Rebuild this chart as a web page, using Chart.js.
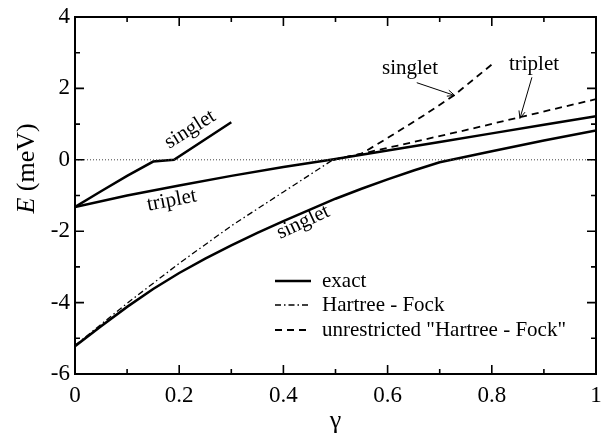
<!DOCTYPE html>
<html>
<head>
<meta charset="utf-8">
<script src="https://cdn.jsdelivr.net/npm/chart.js@4.4.0/dist/chart.umd.min.js"></script>
<style>
html, body { margin: 0; padding: 0; background: #fff; }
#wrap { width: 605px; height: 441px; }
</style>
</head>
<body>
<div id="wrap"><canvas id="chart" width="605" height="441"></canvas></div>
<script>
// energies E (meV) vs gamma
const gammaExactSingletA = [0, 0.05, 0.1, 0.15, 0.19, 0.3];
const exactSingletA = [-1.32, -0.88, -0.45, -0.05, 0.0, 1.05];

const gammaExactTriplet = [0, 0.1, 0.2, 0.3, 0.4, 0.5, 0.6, 0.7, 0.8, 0.9, 1.0];
const exactTriplet = [-1.32, -1.0, -0.72, -0.45, -0.2, 0.02, 0.26, 0.5, 0.74, 0.98, 1.22];

const gammaExactSingletB = [0, 0.05, 0.1, 0.15, 0.2, 0.25, 0.3, 0.35, 0.4, 0.45, 0.5, 0.55, 0.6, 0.65, 0.7, 0.8, 0.9, 1.0];
const exactSingletB = [-5.22, -4.66, -4.12, -3.62, -3.17, -2.77, -2.4, -2.05, -1.72, -1.4, -1.09, -0.81, -0.55, -0.3, -0.07, 0.24, 0.54, 0.82];

const gammaHF = [0, 0.1, 0.2, 0.3, 0.4, 0.495];
const hartreeFock = [-5.2, -4.02, -2.9, -1.85, -0.9, 0.0];

const gammaUHFSinglet = [0.495, 0.55, 0.61, 0.67, 0.727, 0.8];
const uhfSinglet = [0.0, 0.17, 0.7, 1.25, 1.8, 2.67];

const gammaUHFTriplet = [0.495, 0.55, 0.62, 0.75, 0.85, 1.0];
const uhfTriplet = [0.0, 0.17, 0.4, 0.83, 1.18, 1.7];

const xTicks = [0, 0.1, 0.2, 0.3, 0.4, 0.5, 0.6, 0.7, 0.8, 0.9, 1.0];
const yTicks = [-6, -5, -4, -3, -2, -1, 0, 1, 2, 3, 4];

const legendLabels = ['exact', 'Hartree - Fock', 'unrestricted "Hartree - Fock"'];

const SERIF = '"Liberation Serif", "Times New Roman", serif';
const SOLID = [];
const DASHDOT = [6, 3, 1.5, 3];
const DASHED = [7, 5];

function pts(xs, ys) {
    return xs.map((x, i) => ({ x: x, y: ys[i] }));
}

function line(data, width, dash) {
    return {
        data: data,
        showLine: true,
        borderColor: '#000',
        borderWidth: width,
        borderDash: dash,
        pointRadius: 0,
        tension: 0,
        fill: false
    };
}

// text labels and arrows placed in data coordinates
const notes = [
    { text: 'singlet', x: 0.221, y: 0.85, rot: -32 },
    { text: 'triplet', x: 0.186, y: -1.14, rot: -11 },
    { text: 'singlet', x: 0.438, y: -1.75, rot: -25 },
    { text: 'singlet', x: 0.643, y: 2.55, rot: 0 },
    { text: 'triplet', x: 0.881, y: 2.67, rot: 0 }
];
const arrows = [
    { from: [0.656, 2.16], to: [0.729, 1.8] },
    { from: [0.877, 2.31], to: [0.854, 1.16] }
];

function drawArrow(ctx, x1, y1, x2, y2) {
    const a = Math.atan2(y2 - y1, x2 - x1);
    const h = 8, s = 0.4;
    ctx.beginPath();
    ctx.moveTo(x1, y1);
    ctx.lineTo(x2, y2);
    ctx.moveTo(x2 - h * Math.cos(a - s), y2 - h * Math.sin(a - s));
    ctx.lineTo(x2, y2);
    ctx.lineTo(x2 - h * Math.cos(a + s), y2 - h * Math.sin(a + s));
    ctx.stroke();
}

const decor = {
    id: 'decor',
    afterDraw(chart) {
        const ctx = chart.ctx;
        const xs = chart.scales.x, ys = chart.scales.y;
        const a = chart.chartArea;
        ctx.save();
        ctx.strokeStyle = '#000';
        ctx.fillStyle = '#000';
        ctx.setLineDash([]);

        // frame
        ctx.lineWidth = 2;
        ctx.strokeRect(a.left, a.top, a.right - a.left, a.bottom - a.top);

        // inward ticks
        ctx.lineWidth = 1.6;
        ctx.beginPath();
        xTicks.forEach((v, i) => {
            const px = xs.getPixelForValue(v);
            const len = i % 2 === 0 ? 9 : 5;
            ctx.moveTo(px, a.bottom); ctx.lineTo(px, a.bottom - len);
            ctx.moveTo(px, a.top); ctx.lineTo(px, a.top + len);
        });
        yTicks.forEach((v, i) => {
            const py = ys.getPixelForValue(v);
            const len = i % 2 === 0 ? 9 : 5;
            ctx.moveTo(a.left, py); ctx.lineTo(a.left + len, py);
            ctx.moveTo(a.right, py); ctx.lineTo(a.right - len, py);
        });
        ctx.stroke();

        // annotations
        ctx.font = '21px ' + SERIF;
        ctx.textAlign = 'center';
        ctx.textBaseline = 'middle';
        notes.forEach(n => {
            ctx.save();
            ctx.translate(xs.getPixelForValue(n.x), ys.getPixelForValue(n.y));
            ctx.rotate(n.rot * Math.PI / 180);
            ctx.fillText(n.text, 0, 0);
            ctx.restore();
        });
        ctx.lineWidth = 1;
        arrows.forEach(r => {
            drawArrow(ctx,
                xs.getPixelForValue(r.from[0]), ys.getPixelForValue(r.from[1]),
                xs.getPixelForValue(r.to[0]), ys.getPixelForValue(r.to[1]));
        });

        // legend
        const styles = [[SOLID, 2.5, 36], [DASHDOT, 1.3, 33], [DASHED, 1.8, 33]];
        const lx = 275, ly = [281, 305, 330];
        ctx.textAlign = 'left';
        legendLabels.forEach((t, i) => {
            ctx.setLineDash(styles[i][0]);
            ctx.lineWidth = styles[i][1];
            ctx.beginPath();
            ctx.moveTo(lx, ly[i]);
            ctx.lineTo(lx + styles[i][2], ly[i]);
            ctx.stroke();
            ctx.setLineDash([]);
            ctx.fillText(t, 322, ly[i]);
        });

        // axis titles
        ctx.font = '26px ' + SERIF;
        ctx.textAlign = 'center';
        ctx.fillText('\u03b3', (a.left + a.right) / 2, 421);

        ctx.save();
        ctx.translate(27, (a.top + a.bottom) / 2 - 27);
        ctx.rotate(-Math.PI / 2);
        ctx.font = 'italic 26px ' + SERIF;
        const wE = ctx.measureText('E').width;
        ctx.font = '26px ' + SERIF;
        const wR = ctx.measureText(' (meV)').width;
        const start = -(wE + wR) / 2;
        ctx.textAlign = 'left';
        ctx.font = 'italic 26px ' + SERIF;
        ctx.fillText('E', start, 0);
        ctx.font = '26px ' + SERIF;
        ctx.fillText(' (meV)', start + wE, 0);
        ctx.restore();

        ctx.restore();
    }
};

const tickFont = { family: SERIF, size: 23 };

new Chart(document.getElementById('chart'), {
    type: 'scatter',
    data: {
        datasets: [
            {
                data: pts([0, 1], [0, 0]),
                showLine: true,
                borderColor: '#444',
                borderWidth: 1,
                borderDash: [1, 2],
                pointRadius: 0
            },
            line(pts(gammaExactSingletA, exactSingletA), 2.5, SOLID),
            line(pts(gammaExactTriplet, exactTriplet), 2.5, SOLID),
            line(pts(gammaExactSingletB, exactSingletB), 2.5, SOLID),
            line(pts(gammaHF, hartreeFock), 1.3, DASHDOT),
            line(pts(gammaUHFSinglet, uhfSinglet), 1.8, DASHED),
            line(pts(gammaUHFTriplet, uhfTriplet), 1.8, DASHED)
        ]
    },
    options: {
        responsive: false,
        animation: false,
        layout: { padding: { top: 17, right: 9, left: 0, bottom: 0 } },
        plugins: { legend: { display: false }, tooltip: { enabled: false } },
        scales: {
            x: {
                type: 'linear',
                min: 0,
                max: 1,
                ticks: {
                    stepSize: 0.2, color: '#000', font: tickFont, padding: 8, maxRotation: 0, autoSkip: false,
                    callback: v => String(Math.round(v * 10) / 10)
                },
                grid: { display: false, drawTicks: false },
                border: { display: false },
                afterFit(s) { s.height = 67; s.paddingLeft = 0; s.paddingRight = 0; }
            },
            y: {
                type: 'linear',
                min: -6,
                max: 4,
                ticks: { stepSize: 2, color: '#000', font: tickFont, padding: 5, autoSkip: false },
                grid: { display: false, drawTicks: false },
                border: { display: false },
                afterFit(s) { s.width = 75; s.paddingTop = 0; s.paddingBottom = 0; }
            }
        }
    },
    plugins: [decor]
});
</script>
</body>
</html>
